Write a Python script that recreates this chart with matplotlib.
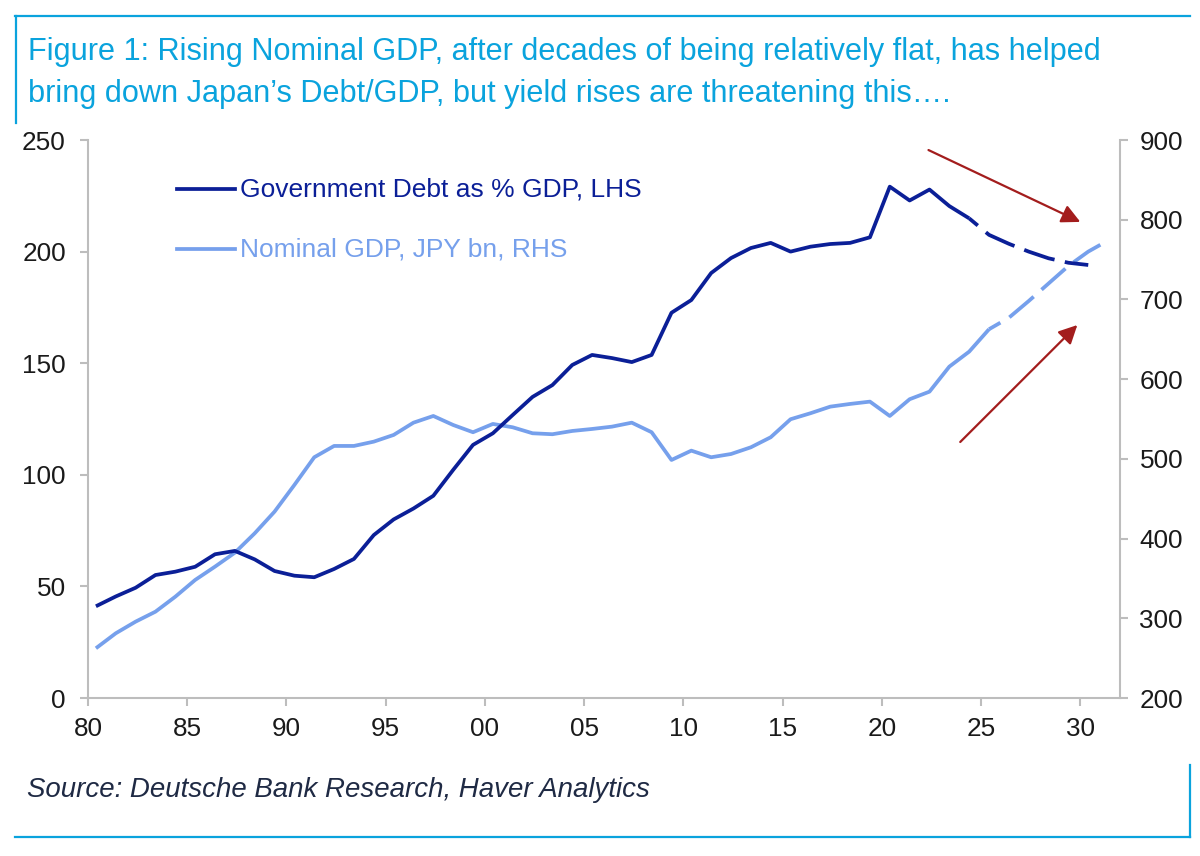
import numpy as np
import matplotlib
matplotlib.use("Agg")
import matplotlib.pyplot as plt
from matplotlib.lines import Line2D

plt.rcParams['font.family'] = ['Liberation Sans', 'DejaVu Sans']

# annual data, 1980-2024/25, then projections to 2030
years_debt = np.arange(1980, 2025)
debt_pct = [41.1, 45.5, 49.4, 55.1, 56.6, 58.8, 64.4, 65.9, 62.1, 56.9,
            54.8, 54.1, 57.8, 62.3, 73.0, 80.0, 84.9, 90.6, 102.2, 113.4,
            118.6, 126.8, 134.9, 140.2, 149.2, 153.7, 152.3, 150.5, 153.7, 172.6,
            178.3, 190.4, 197.1, 201.6, 203.9, 200.0, 202.2, 203.4, 203.9, 206.4,
            229.1, 222.9, 227.8, 220.4, 214.9]
years_debt_proj = np.arange(2024, 2031)
debt_proj = [214.9, 207.5, 203.5, 200.0, 197.0, 195.0, 194.0]

years_gdp = np.arange(1980, 2026)
gdp_bn = [262.4, 281.2, 295.8, 308.3, 327.1, 348.1, 364.8, 382.3, 406.6, 433.8,
          467.3, 502.0, 516.2, 516.2, 521.6, 530.0, 545.4, 553.8, 542.5, 533.4,
          543.8, 539.6, 532.1, 530.9, 535.0, 537.5, 540.4, 545.4, 533.4, 498.6,
          510.3, 502.0, 506.1, 514.5, 527.1, 549.7, 557.2, 565.5, 568.9, 571.8,
          553.8, 574.8, 584.3, 615.7, 634.5, 662.6]
years_gdp_proj = np.arange(2025, 2032)
gdp_proj = [662.6, 677.0, 698.0, 720.0, 742.0, 760.0, 774.0]

xtick_years = np.arange(1980, 2031, 5)
xtick_labels = ["80", "85", "90", "95", "00", "05", "10", "15", "20", "25", "30"]

# annotation arrows (start -> end), in LHS data units
arrow_down = [(2022.35, 245.5), (2030.0, 213.3)]
arrow_up = [(2023.95, 114.7), (2029.85, 167.1)]

DARK = "#0B1F97"
LIGHT = "#76A0EC"
CYAN = "#0AA3DD"
RED = "#A31D1D"
GREY = "#BDBDBD"
MID = 0.4  # annual points plotted a bit after the tick

fig = plt.figure(figsize=(12, 8.56), dpi=100)
ax = fig.add_axes([88/1200, 1-698/856, (1120-88)/1200, (698-140)/856])
ax2 = ax.twinx()

ax.plot(years_debt + MID, debt_pct, color=DARK, lw=2.7, solid_capstyle='butt', zorder=3)
ax.plot(years_debt_proj + MID, debt_proj, color=DARK, lw=2.7,
        linestyle=(5.5, (8.5, 2.8)), zorder=3)
ax2.plot(years_gdp + MID, gdp_bn, color=LIGHT, lw=2.7, solid_capstyle='butt')
ax2.plot(years_gdp_proj + MID, gdp_proj, color=LIGHT, lw=2.7,
         linestyle=(5.0, (8.5, 2.8)))

ax.set_zorder(ax2.get_zorder() + 1)
ax.patch.set_visible(False)

ax.set_xlim(1980, 2032)
ax.set_ylim(0, 250)
ax2.set_ylim(200, 900)
ax.set_yticks(np.arange(0, 251, 50))
ax2.set_yticks(np.arange(200, 901, 100))
ax.set_xticks(xtick_years)
ax.set_xticklabels(xtick_labels)

for a in (ax, ax2):
    for s in a.spines.values():
        s.set_visible(False)
    a.tick_params(colors=GREY, labelcolor="#1a1a1a", labelsize=18.8,
                  length=6, width=1.5)
ax.spines['left'].set_visible(True)
ax.spines['bottom'].set_visible(True)
ax2.spines['right'].set_visible(True)
for s in (ax.spines['left'], ax.spines['bottom'], ax2.spines['right']):
    s.set_color(GREY)
    s.set_linewidth(1.5)
ax.tick_params(axis='x', pad=8)
ax.tick_params(axis='y', pad=10)
ax2.tick_params(axis='y', pad=8)

# legend drawn by hand, like the original
ax.add_line(Line2D([177/1200, 235/1200], [1-189/856, 1-189/856], transform=fig.transFigure,
                   color=DARK, lw=2.7))
fig.text(240/1200, 1-189/856, "Government Debt as % GDP, LHS", color=DARK,
         fontsize=19, va='center')
ax.add_line(Line2D([177/1200, 235/1200], [1-249/856, 1-249/856], transform=fig.transFigure,
                   color=LIGHT, lw=2.7))
fig.text(240/1200, 1-249/856, "Nominal GDP, JPY bn, RHS", color=LIGHT,
         fontsize=19, va='center')

for (x0, y0), (x1, y1) in (arrow_down, arrow_up):
    ax.annotate("", xy=(x1, y1), xytext=(x0, y0),
                arrowprops=dict(arrowstyle='-|>', color=RED, lw=1.6,
                                mutation_scale=28, shrinkA=0, shrinkB=0))

fig.text(28/1200, 1-60/856,
         "Figure 1: Rising Nominal GDP, after decades of being relatively flat, has helped",
         color=CYAN, fontsize=22.1, va='baseline')
fig.text(28/1200, 1-102/856,
         "bring down Japan\u2019s Debt/GDP, but yield rises are threatening this\u2026.",
         color=CYAN, fontsize=22.1, va='baseline')
fig.text(27/1200, 1-797/856, "Source: Deutsche Bank Research, Haver Analytics",
         color="#1F2A44", fontsize=19.9, style='italic', va='baseline')

# frame lines
frame = [([15, 1190], [16, 16]), ([16, 16], [16, 123]),
         ([15, 1190], [837, 837]), ([1190, 1190], [765, 837])]
for xs, ys in frame:
    fig.add_artist(Line2D([x/1200 for x in xs], [1-y/856 for y in ys],
                          transform=fig.transFigure, color=CYAN, lw=1.6))

fig.savefig("out.png", dpi=100)
